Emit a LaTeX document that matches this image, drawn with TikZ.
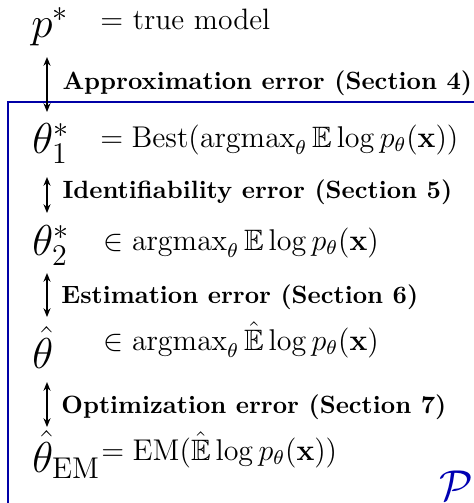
\documentclass[tikz,border=0pt]{standalone}
\usepackage{amssymb}
\usepackage{amsmath}
\usetikzlibrary{arrows.meta}

\newcommand{\Ehat}{\hat{\mathbb{E}}}

\tikzset{
    lhs/.style={anchor=base west, inner sep=0pt, font=\fontsize{16.5}{19}\selectfont},
    rhs/.style={anchor=base west, inner sep=0pt, font=\fontsize{11.8}{14}\selectfont},
    errlab/.style={anchor=base west, inner sep=0pt, font=\normalsize\bfseries},
    errarrow/.style={{Stealth[length=3.5pt,width=2.8pt]}-{Stealth[length=3.5pt,width=2.8pt]}, semithick},
    modelbox/.style={draw=blue!65!black, semithick}
}

\begin{document}
\begin{tikzpicture}[x=0.4pt, y=-0.4pt]
        \useasboundingbox (0,0) rectangle (474,503);

        % ================= 模型集合 P (蓝框) =================
        \draw[modelbox] (476,102) -- (8,102) -- (8,505);
        \node[text=blue!70!black, font=\LARGE, inner sep=0pt] (setP) at (456,486) {$\mathcal{P}$};

        % ================= 左列：各个参数 =================
        \node[lhs, font=\LARGE] (p) at (31,37) {$p^*$};
        \node[lhs] (t1) at (32,153) {$\theta_1^*$};
        \node[lhs] (t2) at (32,255) {$\theta_2^*$};
        \node[lhs] (th) at (32,368) {$\hat{\theta}$};
        \node[lhs] (tem) at (32,472) {$\hat{\theta}_{\mathrm{EM}}$};

        % ================= 右列：定义 =================
        \node[rhs] (dp) at (100,29) {$=$ true model};
        \node[rhs] (dt1) at (100,147) {$= \mathrm{Best}(\mathrm{argmax}_\theta \, \mathbb{E} \log p_\theta(\mathbf{x}))$};
        \node[rhs] (dt2) at (103,250) {$\in \mathrm{argmax}_\theta \, \mathbb{E} \log p_\theta(\mathbf{x})$};
        \node[rhs] (dth) at (103,350) {$\in \mathrm{argmax}_\theta \, \Ehat \log p_\theta(\mathbf{x})$};
        \node[rhs] (dtem) at (101,460) {$= \mathrm{EM}(\Ehat \log p_\theta(\mathbf{x}))$};

        % ================= 误差箭头 =================
        \coordinate (a1s) at (47,57);  \coordinate (a1e) at (47,112);
        \coordinate (a2s) at (47,177); \coordinate (a2e) at (47,213);
        \coordinate (a3s) at (47,273); \coordinate (a3e) at (47,317);
        \coordinate (a4s) at (47,382); \coordinate (a4e) at (47,427);

        \draw[errarrow] (a1s) -- (a1e);
        \draw[errarrow] (a2s) -- (a2e);
        \draw[errarrow] (a3s) -- (a3e);
        \draw[errarrow] (a4s) -- (a4e);

        % 误差标签
        \node[errlab] (e1) at (62,89) {Approximation error (Section 4)};
        \node[errlab] (e2) at (62,198) {Identifiability error (Section 5)};
        \node[errlab] (e3) at (61,303) {Estimation error (Section 6)};
        \node[errlab] (e4) at (61,413) {Optimization error (Section 7)};

    \end{tikzpicture}
\end{document}
